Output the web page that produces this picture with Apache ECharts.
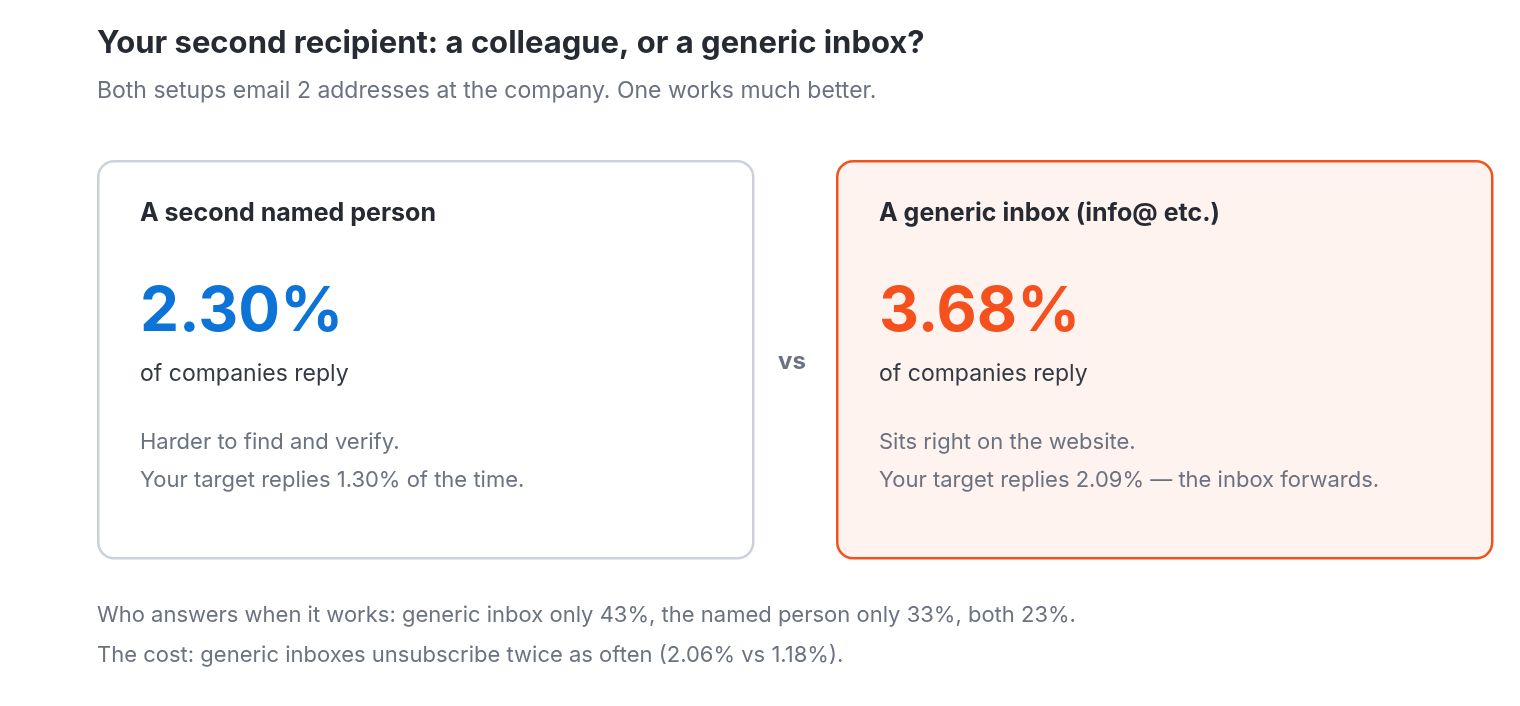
<!DOCTYPE html>
<html>
<head>
<meta charset="UTF-8"/>
<title>Second recipient</title>
<script src="https://cdn.jsdelivr.net/npm/echarts@6/dist/echarts.min.js"></script>
<style>html,body{margin:0;background:#fff}</style>
</head>
<body>
<div id="main" style="width:1520px;height:706px;"></div>
<script>
var titleText = 'Your second recipient: a colleague, or a generic inbox?';
var subtitleText = 'Both setups email 2 addresses at the company. One works much better.';
var cardTitles = ['A second named person', 'A generic inbox (info@ etc.)'];
var replyRates = ['2.30%', '3.68%'];
var cardNotes = [
    ['Harder to find and verify.', 'Your target replies 1.30% of the time.'],
    ['Sits right on the website.', 'Your target replies 2.09% \u2014 the inbox forwards.']
];
var footerLines = [
    'Who answers when it works: generic inbox only 43%, the named person only 33%, both 23%.',
    'The cost: generic inboxes unsubscribe twice as often (2.06% vs 1.18%).'
];

var font = 'Inter, "Noto Sans", sans-serif';
var dark = '#262b33', grey = '#6b7280';
var accents = ['#0b74d6', '#f4511e'];
var cardX = [97, 836];
var els = [];

function txt(x, y, s, size, color, weight, align) {
    return {type: 'text', left: x, top: y, style: {
        text: s, x: 0, y: 0, fontSize: size, fill: color, fontWeight: weight || 'normal',
        fontFamily: font, textVerticalAlign: 'middle', textAlign: align || 'left'
    }};
}

els.push(txt(97, 28, titleText, 31, dark, 'bold'));
els.push(txt(97, 80, subtitleText, 23, grey));

for (var i = 0; i < 2; i++) {
    els.push({type: 'rect', left: cardX[i], top: 160, shape: {width: 655, height: 397, r: 16},
        style: {fill: i ? '#fef3ef' : '#fff', stroke: i ? accents[1] : '#cdd2da', lineWidth: 2.5}});
    var x = cardX[i] + 43;
    els.push(txt(x, 201, cardTitles[i], 25, dark, 'bold'));
    els.push(txt(x, 281, replyRates[i], 62, accents[i], 'bold'));
    els.push(txt(x, 363, 'of companies reply', 23, '#333a44'));
    els.push(txt(x, 431, cardNotes[i][0], 22, grey));
    els.push(txt(x, 469, cardNotes[i][1], 22, grey));
}
els.push(txt(778, 350, 'vs', 24, grey, 'bold'));
els.push(txt(97, 604, footerLines[0], 22, grey));
els.push(txt(97, 644, footerLines[1], 22, grey));

var myChart = echarts.init(document.getElementById('main'));
myChart.setOption({graphic: {elements: els}});
</script>
</body>
</html>
